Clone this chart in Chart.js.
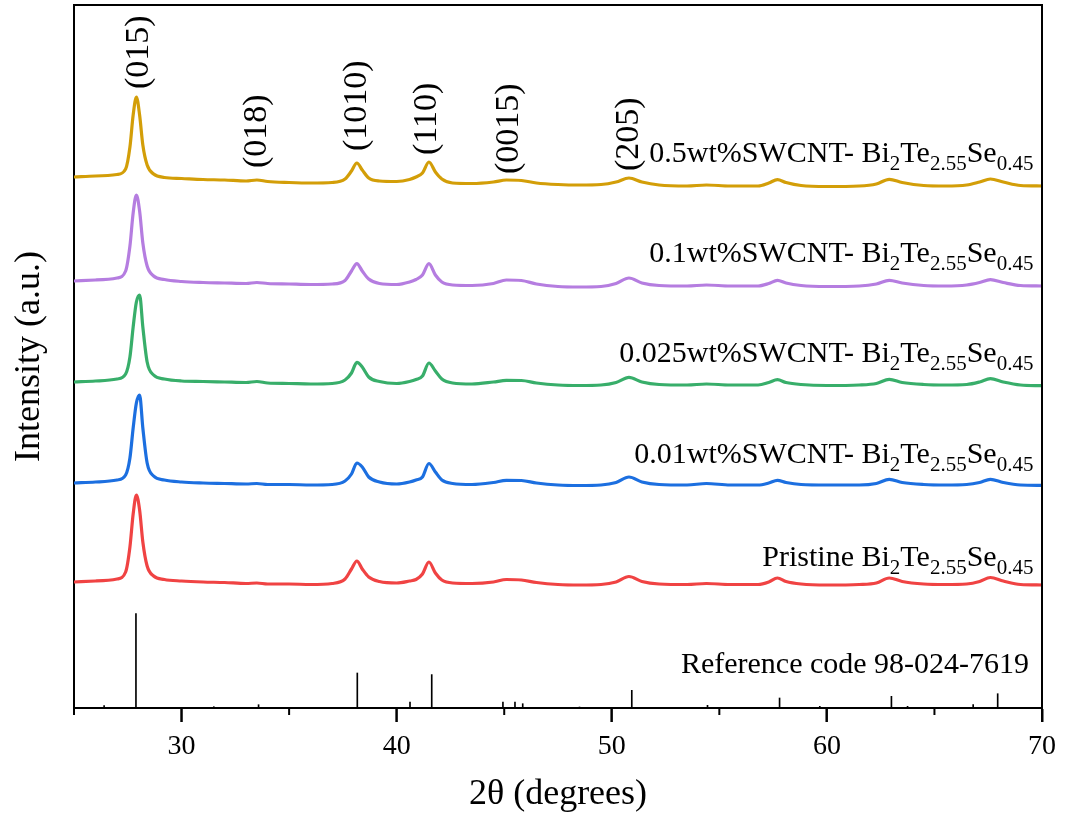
<!DOCTYPE html>
<html>
<head>
<meta charset="utf-8">
<script src="https://cdn.jsdelivr.net/npm/chart.js@4.4.1/dist/chart.umd.min.js"></script>
<style>
  html, body { margin:0; padding:0; background:#fff; }
  #wrap { width:1065px; height:816px; }
</style>
</head>
<body>
<div id="wrap"><canvas id="xrd" width="1065" height="816"></canvas></div>
<script>
// 2theta grid (degrees)
const twoTheta = [25,26,27,
  27.4,27.6,27.75,27.9,28.05,28.2,28.4,28.7,29.2,
  30,31,32,33,33.5,34,35,36,37,
  37.6,37.9,38.15,38.4,38.7,39.2,
  40,40.6,40.9,41.2,41.5,41.8,42.1,42.6,
  43.5,44.5,45.1,45.8,46.5,47.5,48.5,49.5,
  50.2,50.8,51.4,52.2,53.5,54.4,55.5,56.8,
  57.3,57.7,58.1,58.8,60,61.5,62.3,62.9,
  63.5,64.5,65.5,66.5,67.1,67.6,68.2,69,70];

// intensities (a.u.), relative to each pattern's starting background
const pristine = [0,1,3,
  10,35,68,87,72,40,16,6,2.5,
  1,0,-0.5,-1.5,-1,-2,-2,-2.5,-1.5,
  3,13,21,13,5,0.5,
  -1,1,2.5,8,20,9,2,-1,
  -1.5,0,2.5,2,-0.5,-2.5,-3,-2.5,
  0,5.5,0.5,-2,-2.5,-1.5,-2.5,-2.5,
  0,4,0.5,-2,-3,-2.5,-1,4,
  0.5,-2,-2.5,-2,0.5,4.5,1,-2.5,-3];
const swcnt001 = [0,1,3,
  8,25,55,80,88,55,20,7,3,
  1,0,-0.5,-1,-0.5,-1.5,-1.5,-2,-1.5,
  2,9,20,16,6,1,
  -1,1,3,6,19.5,11,3,-0.5,
  -1.5,0.5,2.7,2.5,0,-2,-2.5,-2,
  0.5,6,1,-1.5,-2,-0.5,-2,-2,
  0,2.7,0.5,-1.5,-2,-2,-0.5,3.7,
  0.5,-1.5,-2,-1.5,0.5,3.7,0.5,-2,-2.3];
const swcnt0025 = [0,1,3,
  8,25,55,80,87,55,20,7,3,
  1,0.5,0,-0.5,0.5,-1,-1.5,-2,-1.5,
  2,9,19.6,15,5,0.5,
  -1.5,0.5,2.5,6,19,11,3,-1,
  -2,0,1.6,1.5,-1,-3,-3.5,-3,
  -0.5,4.6,0,-2.5,-3,-2,-3,-3,
  -0.5,2.3,-0.5,-2.5,-3.5,-3,-1.5,2.6,
  -0.5,-2.5,-3,-2.5,0,3.3,0,-3,-3.7];
const swcnt01 = [0,1,3,
  10,35,68,86,70,38,15,5,1.5,
  -0.5,-1.5,-2,-2.5,-1.5,-2.5,-3,-3.5,-3,
  0.5,10,17.4,10,2,-2.5,
  -3.5,-1,1.5,6,17.4,6,-1,-4,
  -4.5,-2.5,1,0.5,-3,-5.5,-6,-5.5,
  -2.5,3,-2,-4.5,-5,-4,-5,-5,
  -2.5,0.7,-2,-4.5,-5.5,-5,-3,0.7,
  -2,-4.5,-5,-4,-1.5,1.4,-1.5,-4.5,-5];
const swcnt05 = [0,1,2.5,
  8,30,62,80,62,32,12,3,-0.5,
  -1.5,-2.5,-3,-4,-3,-4.5,-5.5,-6,-5.5,
  -2,6,14,7,-1,-4,
  -4.5,-2.5,0,4,15,5,-2,-6,
  -6.5,-5,-3,-3.5,-6,-7.5,-8,-7.5,
  -5,-1,-5,-8,-9,-8,-9,-9,
  -6,-2.6,-5.5,-8.5,-9.5,-9,-7,-2.3,
  -5.5,-8.5,-9,-8,-5,-2,-5,-8.5,-9];

// vertical stacking offsets of the patterns
const seriesOffsets = [126, 225, 326, 427, 531];
const seriesColors = ['#F04343', '#1C6FE0', '#38AE6A', '#B57DE0', '#D39E08'];

// reference pattern 98-024-7619
const refPos = [26.4, 27.88, 31.5, 33.58, 38.17, 40.62, 41.63, 44.94, 45.5, 45.86, 48.5, 50.93, 54.45, 57.8, 59.67, 63.0, 63.75, 66.8, 67.94];
const refInt = [2.3, 94.4, 1.3, 3.3, 35, 6, 33.4, 6, 6, 4.3, 1, 17.7, 2.7, 10, 1.7, 11.7, 1.7, 3.3, 14.3];

const xTicks = [30, 40, 50, 60, 70];
const xMinorTicks = [25, 35, 45, 55, 65];

// series labels: [text, subscript?]
const seriesLabels = [
  [['Pristine Bi',0],['2',1],['Te',0],['2.55',1],['Se',0],['0.45',1]],
  [['0.01wt%SWCNT- Bi',0],['2',1],['Te',0],['2.55',1],['Se',0],['0.45',1]],
  [['0.025wt%SWCNT- Bi',0],['2',1],['Te',0],['2.55',1],['Se',0],['0.45',1]],
  [['0.1wt%SWCNT- Bi',0],['2',1],['Te',0],['2.55',1],['Se',0],['0.45',1]],
  [['0.5wt%SWCNT- Bi',0],['2',1],['Te',0],['2.55',1],['Se',0],['0.45',1]]
];
const labelBaseY = [142, 245, 346, 446, 546];
const refLabel = 'Reference code 98-024-7619';

const hklText = ['(015)', '(018)', '(1010)', '(110)', '(0015)', '(205)'];
const hklX = [28.04, 33.52, 38.17, 41.42, 45.23, 50.8];
const hklBottom = [619, 540, 557, 553, 534, 537];

const serif = "'Liberation Serif','Times New Roman',serif";
Chart.defaults.font.family = serif;
Chart.defaults.color = '#000';

const patterns = [pristine, swcnt001, swcnt0025, swcnt01, swcnt05];
const lineSets = patterns.map((arr, k) => ({
  type: 'line',
  data: twoTheta.map((x, i) => ({ x, y: arr[i] + seriesOffsets[k] })),
  borderColor: seriesColors[k],
  borderWidth: 3.2,
  pointRadius: 0,
  cubicInterpolationMode: 'monotone',
  borderJoinStyle: 'round',
  fill: false
}));

const refSet = {
  type: 'bar',
  data: refPos.map((x, i) => ({ x, y: refInt[i] })),
  backgroundColor: '#000',
  barThickness: 1,
  borderWidth: 0,
  grouped: false
};

const annot = {
  id: 'annot',
  afterDraw(chart) {
    const { ctx, chartArea: a, scales: { x, y } } = chart;
    ctx.save();
    ctx.strokeStyle = '#000';
    ctx.lineWidth = 2;
    ctx.beginPath();
    ctx.moveTo(a.left, a.top); ctx.lineTo(a.right, a.top); ctx.lineTo(a.right, a.bottom);
    ctx.stroke();
    // major and minor tick marks
    xTicks.forEach(v => {
      const px = x.getPixelForValue(v);
      ctx.beginPath(); ctx.moveTo(px, a.bottom); ctx.lineTo(px, a.bottom + 14); ctx.stroke();
    });
    xMinorTicks.forEach(v => {
      const px = x.getPixelForValue(v);
      ctx.beginPath(); ctx.moveTo(px, a.bottom); ctx.lineTo(px, a.bottom + 7); ctx.stroke();
    });

    ctx.fillStyle = '#000';
    ctx.textBaseline = 'alphabetic';
    const right = x.getPixelForValue(69.6);
    seriesLabels.forEach((parts, k) => {
      let w = 0;
      parts.forEach(([t, sub]) => { ctx.font = (sub ? '21px ' : '30px ') + serif; w += ctx.measureText(t).width; });
      let cx = right - w;
      const by = y.getPixelForValue(labelBaseY[k]);
      parts.forEach(([t, sub]) => {
        ctx.font = (sub ? '21px ' : '30px ') + serif;
        ctx.textAlign = 'left';
        ctx.fillText(t, cx, sub ? by + 8 : by);
        cx += ctx.measureText(t).width;
      });
    });
    ctx.font = '30px ' + serif;
    ctx.textAlign = 'right';
    ctx.fillText(refLabel, x.getPixelForValue(69.4), y.getPixelForValue(35));

    ctx.font = '34px ' + serif;
    ctx.textAlign = 'left';
    ctx.textBaseline = 'middle';
    hklText.forEach((t, i) => {
      ctx.save();
      ctx.translate(x.getPixelForValue(hklX[i]), y.getPixelForValue(hklBottom[i]));
      ctx.rotate(-Math.PI / 2);
      ctx.fillText(t, 0, 0);
      ctx.restore();
    });
    ctx.restore();
  }
};

new Chart(document.getElementById('xrd').getContext('2d'), {
  type: 'line',
  data: { datasets: [refSet, ...lineSets] },
  options: {
    responsive: false,
    animation: false,
    devicePixelRatio: 1,
    layout: { padding: { top: 5, right: 23, left: 0, bottom: 0 } },
    plugins: { legend: { display: false }, tooltip: { enabled: false } },
    scales: {
      x: {
        type: 'linear', min: 25, max: 70, offset: false,
        afterBuildTicks: s => { s.ticks = xTicks.map(v => ({ value: v })); },
        afterFit: s => { s.height = 108; },
        ticks: { font: { size: 28 }, color: '#000', padding: 8, maxRotation: 0, autoSkip: false },
        grid: { display: true, offset: false, drawOnChartArea: false, drawTicks: true, tickLength: 14, tickWidth: 2, tickColor: '#000' },
        border: { display: true, width: 2, color: '#000' },
        title: { display: true, text: '2θ (degrees)', font: { size: 36 }, color: '#000', padding: { top: 0, bottom: 0 } }
      },
      y: {
        type: 'linear', min: 0, max: 703,
        afterFit: s => { s.width = 74; },
        ticks: { display: false },
        grid: { display: false },
        border: { display: true, width: 2, color: '#000' },
        title: { display: true, text: 'Intensity (a.u.)', font: { size: 36 }, color: '#000', padding: { top: 8, bottom: 0 } }
      }
    }
  },
  plugins: [annot]
});
</script>
</body>
</html>
